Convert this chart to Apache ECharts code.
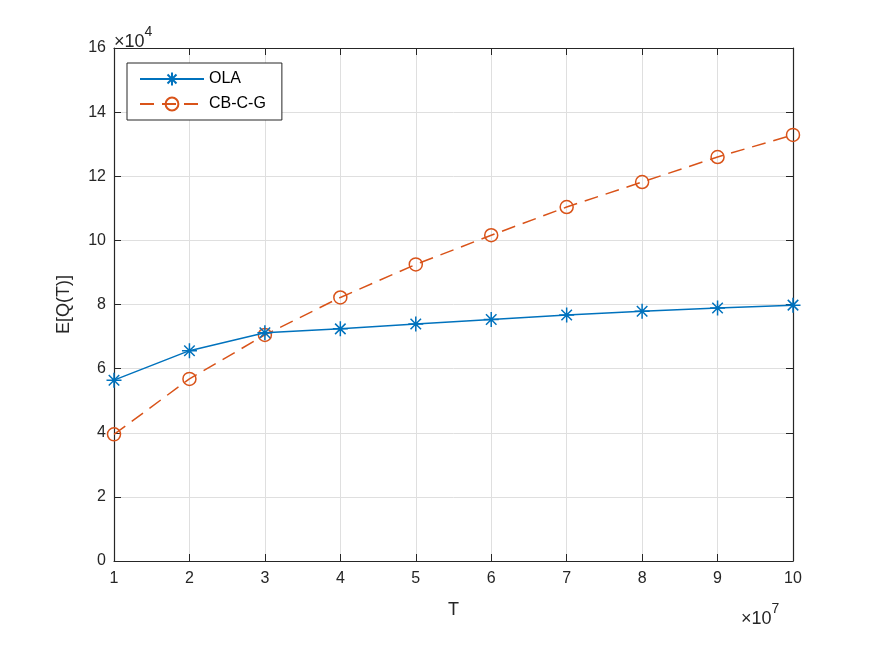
<!DOCTYPE html>
<html>
<head>
<meta charset="utf-8">
<script src="https://cdn.jsdelivr.net/npm/echarts@6/dist/echarts.min.js"></script>
<style>
    html, body { margin: 0; padding: 0; background: #fff; }
    #chart { width: 875px; height: 657px; }
</style>
</head>
<body>
<div id="chart"></div>
<script>
    // T in units of 1e7, E[Q(T)] in units of 1e4
    const tValues = [1, 2, 3, 4, 5, 6, 7, 8, 9, 10];
    const olaValues = [5.64, 6.56, 7.12, 7.24, 7.39, 7.53, 7.67, 7.79, 7.89, 7.98];
    const cbcgValues = [3.95, 5.68, 7.05, 8.22, 9.25, 10.16, 11.04, 11.82, 12.60, 13.29];
    const seriesNames = ['OLA', 'CB-C-G'];

    const blue = '#0072BD';
    const orange = '#D95319';
    const axisColor = '#262626';
    const font = 'Liberation Sans, Arial, Helvetica, sans-serif';

    const asterisk = 'path://M0,-10L0,10M-10,0L10,0M-7,-7L7,7M-7,7L7,-7';

    let myChart = echarts.init(document.getElementById('chart'));

    const pairs = vals => tValues.map((t, i) => [t, vals[i]]);

    const baseX = {
        type: 'value',
        min: 1,
        max: 10,
        interval: 1,
        axisLine: { show: true, onZero: false, lineStyle: { color: axisColor, width: 1.2 } },
        axisTick: { show: true, inside: true, length: 7, lineStyle: { color: axisColor } },
    };
    const baseY = {
        type: 'value',
        min: 0,
        max: 16,
        interval: 2,
        axisLine: { show: true, onZero: false, lineStyle: { color: axisColor, width: 1.2 } },
        axisTick: { show: true, inside: true, length: 7, lineStyle: { color: axisColor } },
    };

    const sci = {
        a: { fontSize: 18, fill: axisColor, fontFamily: font, verticalAlign: 'bottom' },
        b: { fontSize: 14, fill: axisColor, fontFamily: font, verticalAlign: 'top', padding: [0, 0, 12, 0] },
    };

    let option = {
        animation: false,
        backgroundColor: '#fff',
        grid: { left: 114, right: 82, top: 48, bottom: 96, containLabel: false },
        legend: {
            orient: 'vertical',
            left: 127,
            top: 63,
            data: seriesNames,
            backgroundColor: '#fff',
            borderColor: axisColor,
            borderWidth: 1,
            borderRadius: 0,
            padding: [8, 16, 8, 12],
            itemGap: 9,
            itemWidth: 64,
            itemHeight: 16,
            textStyle: { color: '#000', fontSize: 16, fontFamily: font },
        },
        xAxis: [
            Object.assign({}, baseX, {
                position: 'bottom',
                name: 'T',
                nameLocation: 'middle',
                nameGap: 40,
                nameTextStyle: { color: axisColor, fontSize: 18, fontFamily: font },
                axisLabel: { color: axisColor, fontSize: 16, fontFamily: font, margin: 10 },
                splitLine: { show: true, lineStyle: { color: '#dfdfdf', width: 1 } },
            }),
            Object.assign({}, baseX, {
                position: 'top',
                axisLabel: { show: false },
                splitLine: { show: false },
            }),
        ],
        yAxis: [
            Object.assign({}, baseY, {
                position: 'left',
                name: 'E[Q(T)]',
                nameLocation: 'middle',
                nameGap: 41,
                nameRotate: 90,
                nameTextStyle: { color: axisColor, fontSize: 18, fontFamily: font },
                axisLabel: { color: axisColor, fontSize: 16, fontFamily: font, margin: 8 },
                splitLine: { show: true, lineStyle: { color: '#dfdfdf', width: 1 } },
            }),
            Object.assign({}, baseY, {
                position: 'right',
                axisLabel: { show: false },
                splitLine: { show: false },
            }),
        ],
        series: [
            {
                name: seriesNames[0],
                type: 'line',
                data: pairs(olaValues),
                symbol: asterisk,
                symbolSize: 15,
                showAllSymbol: true,
                lineStyle: { color: blue, width: 1.5 },
                itemStyle: { color: blue, borderColor: blue, borderWidth: 1.5 },
                z: 3,
            },
            {
                name: seriesNames[1],
                type: 'line',
                data: pairs(cbcgValues),
                symbol: 'circle',
                symbolSize: 13,
                showAllSymbol: true,
                lineStyle: { color: orange, width: 1.5, type: [14, 8] },
                itemStyle: { color: 'rgba(0,0,0,0)', borderColor: orange, borderWidth: 1.5 },
                z: 2,
            },
        ],
        graphic: [
            {
                type: 'text',
                left: 114,
                top: 25,
                style: { text: '{a|×10}{b|4}', rich: sci },
            },
            {
                type: 'text',
                left: 741,
                top: 602,
                style: { text: '{a|×10}{b|7}', rich: sci },
            },
        ],
    };

    myChart.setOption(option);
</script>
</body>
</html>
